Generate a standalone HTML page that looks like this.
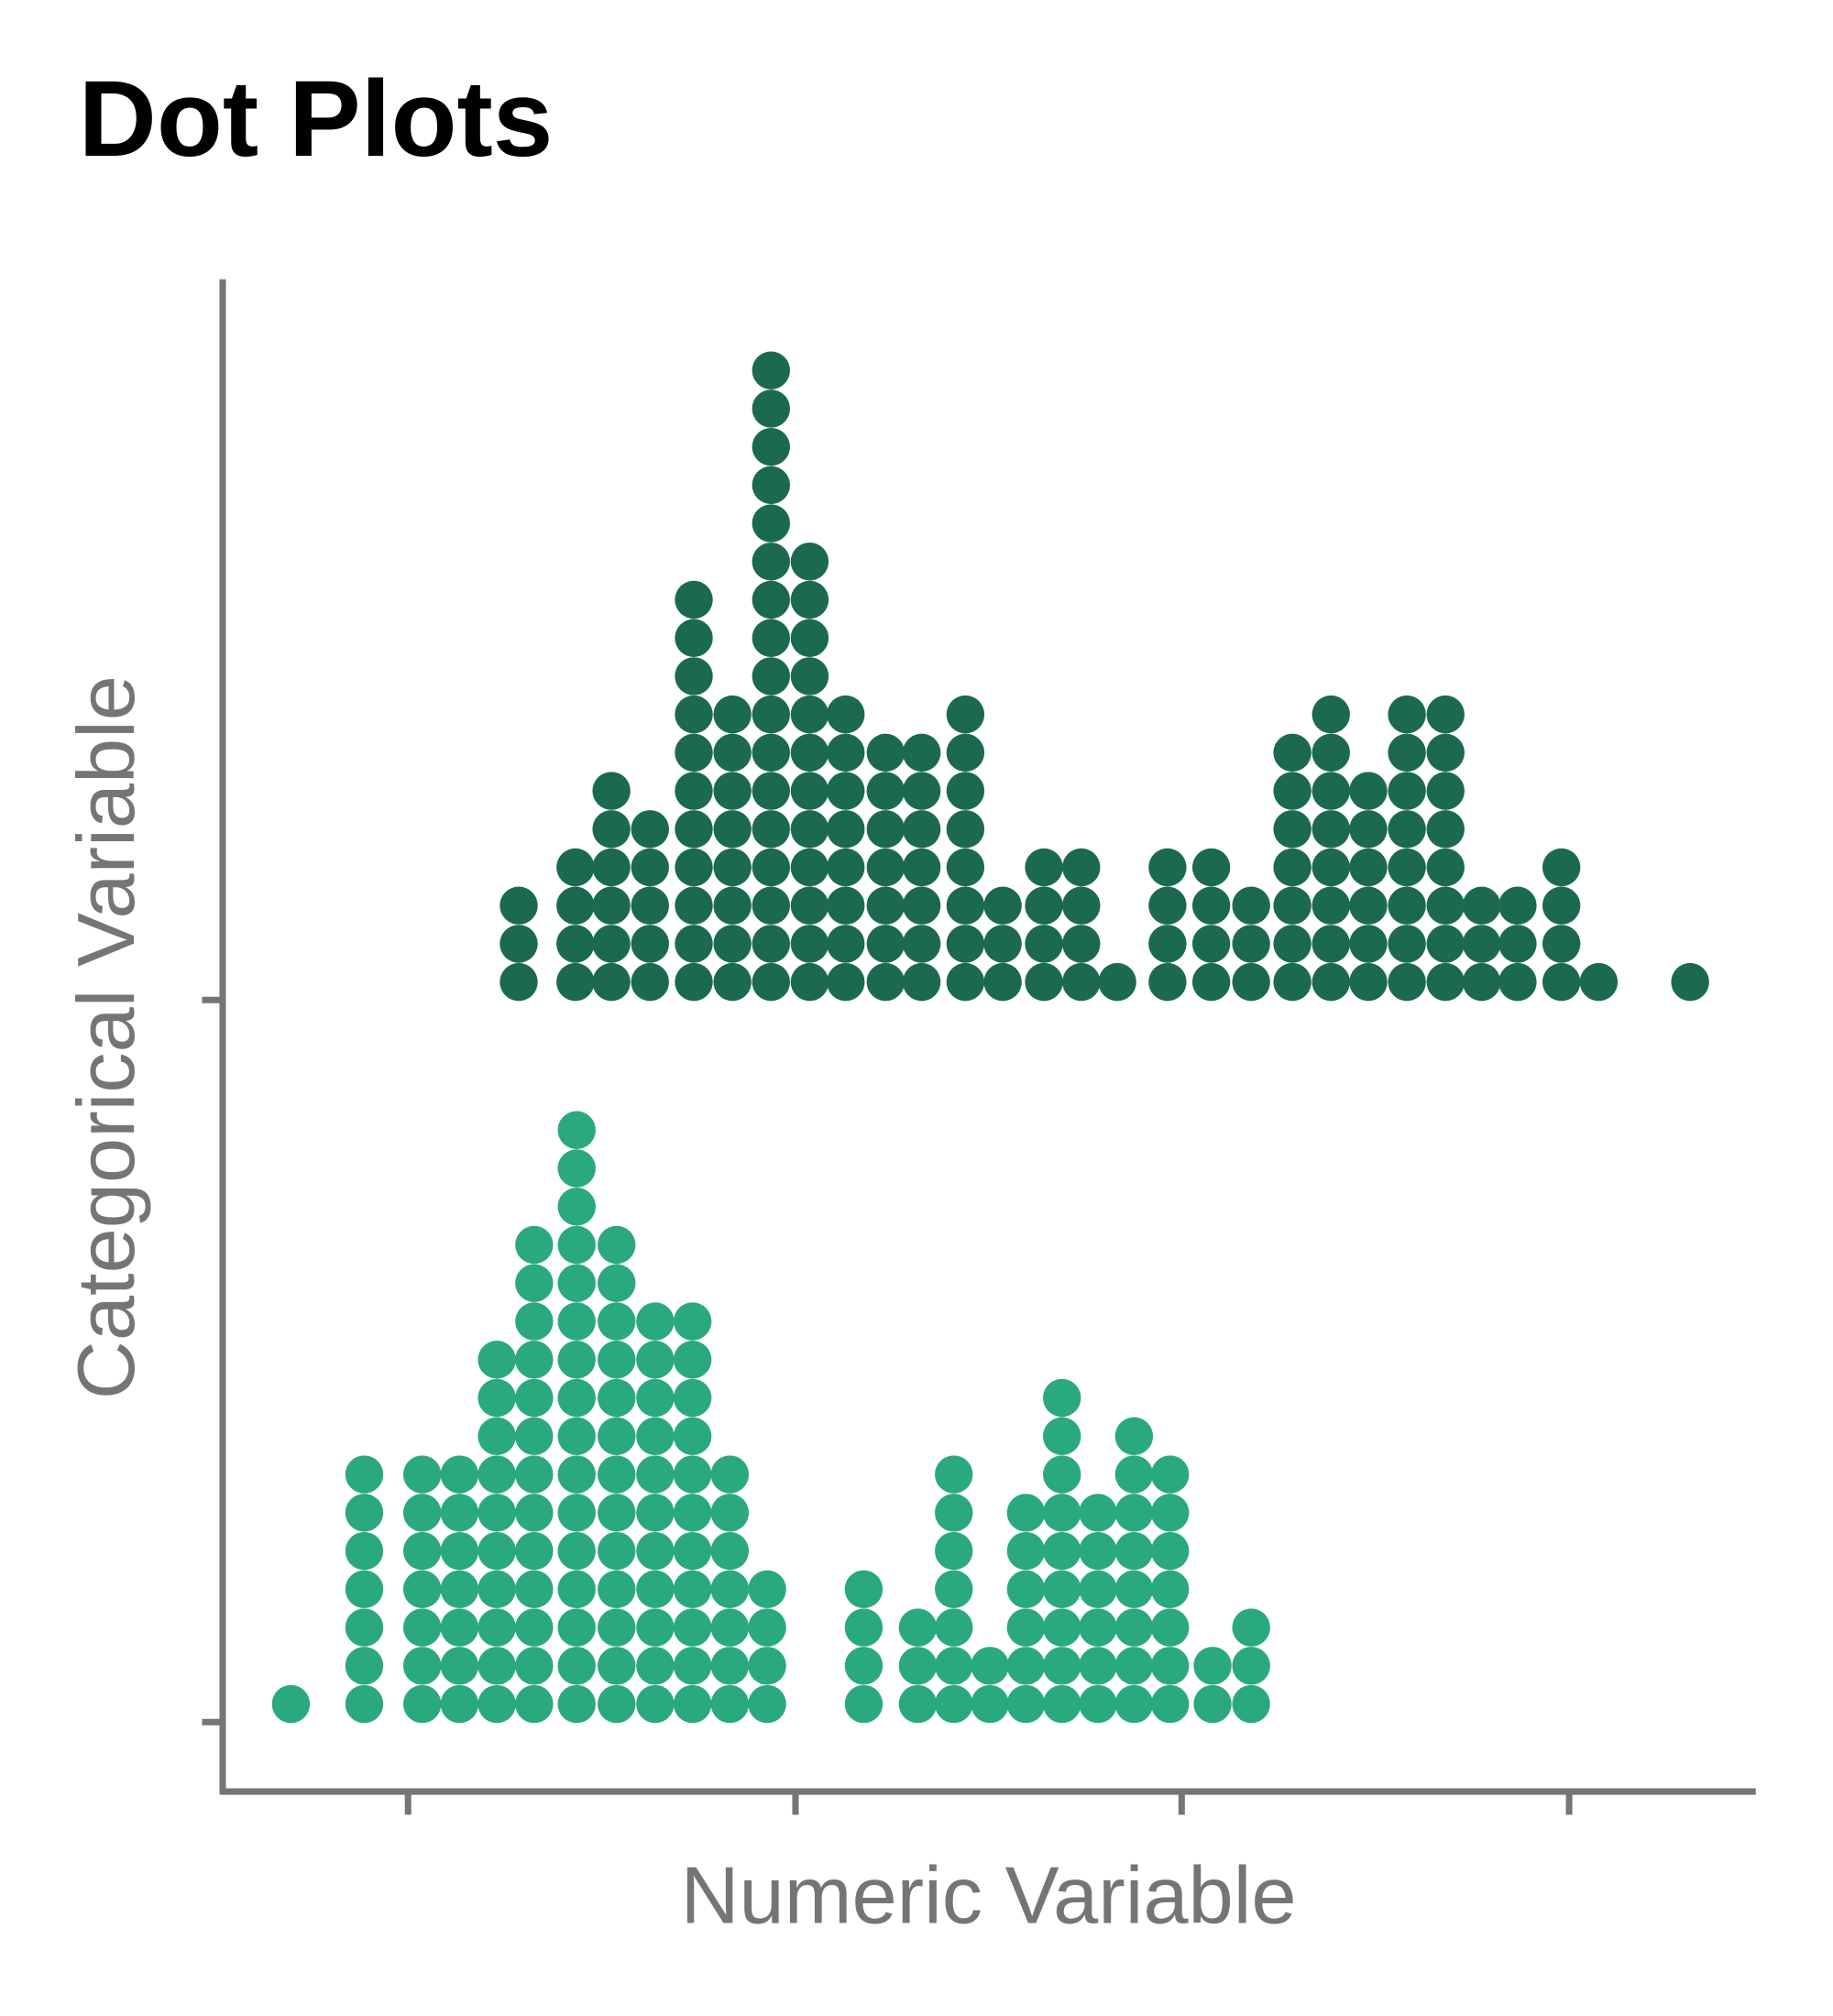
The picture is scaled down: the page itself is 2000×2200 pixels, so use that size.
<!DOCTYPE html>
<html><head><meta charset="utf-8"><style>
html,body{margin:0;padding:0;background:#fff;}
svg{display:block;}
</style></head><body>
<svg width="2000" height="2200" viewBox="0 0 1424 1566.4" xmlns="http://www.w3.org/2000/svg">
<rect width="1424" height="1566.4" fill="#fff"/>
<text x="61" y="121" font-family="Liberation Sans, sans-serif" font-weight="bold" font-size="84" fill="#000">Dot Plots</text>
<g stroke="#757575" stroke-width="5" fill="none">
<path d="M173 217V1394M171 1392H1364"/>
<path d="M157 777H173M157 1338H173"/>
<path d="M317 1392V1410M618 1392V1410M918 1392V1410M1219 1392V1410"/>
</g>
<text x="768" y="1494" text-anchor="middle" font-family="Liberation Sans, sans-serif" font-size="63" fill="#757575">Numeric Variable</text>
<text transform="translate(104,806) rotate(-90)" text-anchor="middle" font-family="Liberation Sans, sans-serif" font-size="63" fill="#757575">Categorical Variable</text>
<g stroke="#1b6a50" stroke-width="29.5" stroke-linecap="round" stroke-dasharray="0 29.7" fill="none">
<path d="M403 763.01V703.6"/>
<path d="M447 763.01V673.9"/>
<path d="M475 763.01V614.5"/>
<path d="M505 763.01V644.2"/>
<path d="M539 763.01V466"/>
<path d="M569 763.01V555.1"/>
<path d="M599 763.01V287.8"/>
<path d="M629 763.01V436.3"/>
<path d="M657 763.01V555.1"/>
<path d="M688 763.01V584.8"/>
<path d="M716 763.01V584.8"/>
<path d="M750 763.01V555.1"/>
<path d="M779 763.01V703.6"/>
<path d="M811 763.01V673.9"/>
<path d="M840 763.01V673.9"/>
<path d="M868 763.01V762.9"/>
<path d="M907 763.01V673.9"/>
<path d="M941 763.01V673.9"/>
<path d="M972 763.01V703.6"/>
<path d="M1004 763.01V584.8"/>
<path d="M1034 763.01V555.1"/>
<path d="M1063 763.01V614.5"/>
<path d="M1093 763.01V555.1"/>
<path d="M1123 763.01V555.1"/>
<path d="M1151 763.01V703.6"/>
<path d="M1179 763.01V703.6"/>
<path d="M1213 763.01V673.9"/>
<path d="M1242 763.01V762.9"/>
<path d="M1313 763.01V762.9"/>
</g>
<g stroke="#2aa97e" stroke-width="29.5" stroke-linecap="round" stroke-dasharray="0 29.73" fill="none">
<path d="M226 1324.01V1323.9"/>
<path d="M283 1324.01V1145.6"/>
<path d="M328 1324.01V1145.6"/>
<path d="M357 1324.01V1145.6"/>
<path d="M386 1324.01V1056.4"/>
<path d="M415 1324.01V967.2"/>
<path d="M448 1324.01V878"/>
<path d="M479 1324.01V967.2"/>
<path d="M509 1324.01V1026.7"/>
<path d="M538 1324.01V1026.7"/>
<path d="M567 1324.01V1145.6"/>
<path d="M596 1324.01V1234.8"/>
<path d="M671 1324.01V1205.1"/>
<path d="M713 1324.01V1264.5"/>
<path d="M741 1324.01V1145.6"/>
<path d="M769 1324.01V1294.2"/>
<path d="M797 1324.01V1175.3"/>
<path d="M825 1324.01V1086.1"/>
<path d="M853 1324.01V1175.3"/>
<path d="M881 1324.01V1115.8"/>
<path d="M909 1324.01V1145.6"/>
<path d="M942 1324.01V1294.2"/>
<path d="M972 1324.01V1264.5"/>
</g>
</svg>
</body></html>
